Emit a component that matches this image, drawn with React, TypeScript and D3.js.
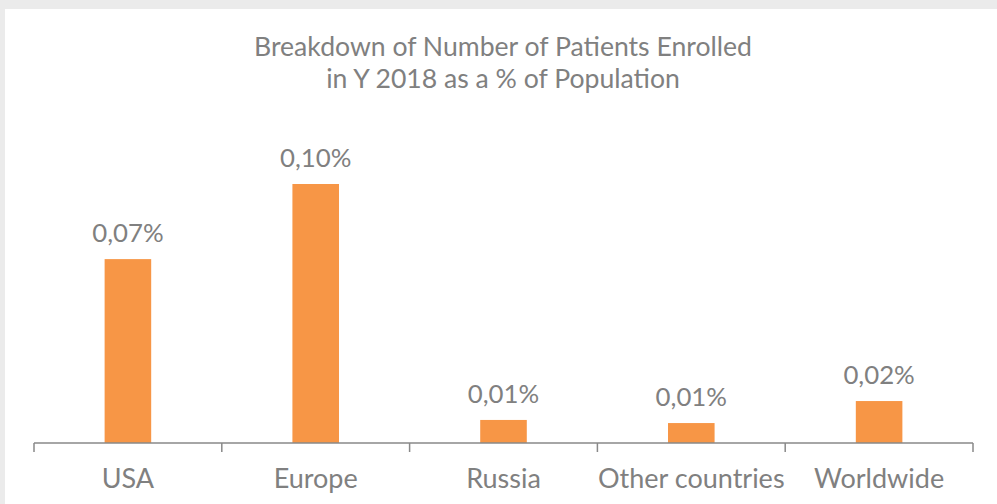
import React from "react";
import * as d3 from "d3";

const categories: string[] = ["USA", "Europe", "Russia", "Other countries", "Worldwide"];
const values: number[] = [0.071, 0.1, 0.0089, 0.0077, 0.0162];
const titleLines: string[] = ["Breakdown of Number of Patients Enrolled", "in Y 2018 as a % of Population"];

const W = 997;
const H = 504;
const axisY = 443;
const FONT = "Lato, 'Open Sans', sans-serif";
const TEXT = "#808080";

export default function App() {
  const x = d3.scaleBand<string>().domain(categories).range([34, 973]).paddingInner(0).paddingOuter(0);
  const y = d3.scaleLinear().domain([0, 0.12]).range([axisY, axisY - 0.12 * 2590]);
  const bw = x.bandwidth() * 0.248;
  const fmt = (v: number) => d3.format(".2f")(v).replace(".", ",") + "%";
  const ticks = [...categories.map((c) => x(c) as number), 973];

  return (
    <svg width={W} height={H} style={{ position: "absolute", left: 0, top: 0, display: "block" }}>
      <rect x={0} y={0} width={W} height={H} fill="#ebebeb" />
      <rect x={5} y={9} width={W - 5} height={H - 9} fill="#ffffff" />
      <g fontFamily={FONT} fill={TEXT} textAnchor="middle">
        <text x={503} y={56} fontSize={26.6}>{titleLines[0]}</text>
        <text x={503} y={88} fontSize={26.6}>{titleLines[1]}</text>
      </g>
      {categories.map((c, i) => {
        const cx = (x(c) as number) + x.bandwidth() / 2;
        return (
          <g key={c}>
            <rect x={cx - bw / 2} y={y(values[i])} width={bw} height={axisY - y(values[i])} fill="#f79646" />
            <text x={cx} y={y(values[i]) - 17} textAnchor="middle" fontFamily={FONT} fontSize={25.8} fill={TEXT}>
              {fmt(values[i])}
            </text>
            <text x={cx} y={488} textAnchor="middle" fontFamily={FONT} fontSize={27} fill={TEXT}>
              {c}
            </text>
          </g>
        );
      })}
      <line x1={34} x2={973} y1={axisY} y2={axisY} stroke="#898989" strokeWidth={1.5} />
      {ticks.map((t, i) => (
        <line key={i} x1={t} x2={t} y1={axisY} y2={452} stroke="#898989" strokeWidth={1.5} />
      ))}
    </svg>
  );
}
